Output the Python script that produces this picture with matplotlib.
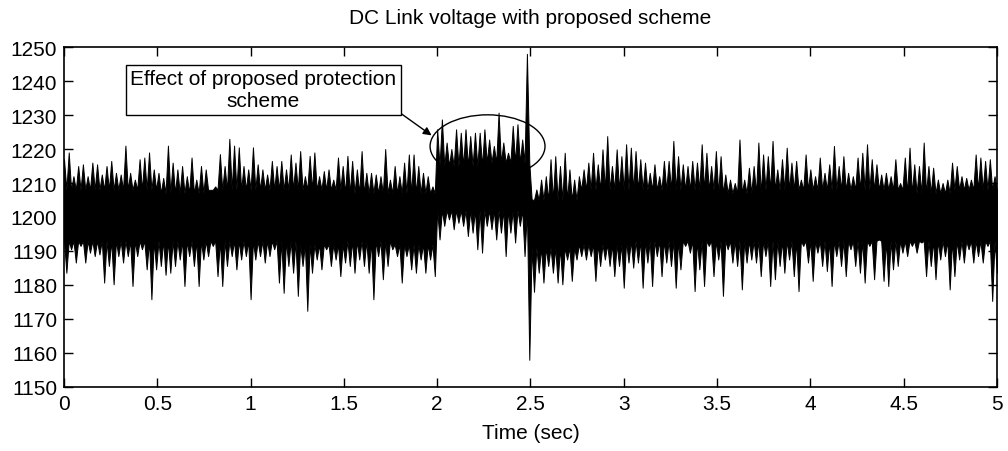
import numpy as np
import matplotlib
matplotlib.use("Agg")
import matplotlib.pyplot as plt
from matplotlib.patches import Ellipse

plt.rcParams['font.family'] = ['Liberation Sans', 'DejaVu Sans']

# Per-interval (0.025 s) upper and lower excursions of the DC link voltage
v_max = [
    1217, 1219, 1212, 1215, 1215.5, 1212, 1216, 1215.5, 1212.5, 1215, 1216.5, 1213, 1212.5, 1221, 1213, 1211, 1217, 1217.5, 1219, 1214, 1213, 1211.5,
    1221, 1216, 1214, 1215, 1212, 1217.5, 1211, 1215, 1214, 1208, 1209, 1218.5, 1215, 1223, 1221, 1220.5, 1215, 1214, 1220.5, 1215.5, 1214, 1212.5,
    1216.5, 1215, 1216.5, 1214, 1218.4, 1216, 1219.4, 1212, 1218, 1219, 1212, 1213.5, 1214, 1211, 1217.5, 1215, 1218, 1216.5, 1214, 1219.4, 1213, 1213,
    1212.5, 1212, 1220, 1211, 1215, 1212, 1216, 1218.4, 1218.4, 1215, 1213, 1212, 1209, 1225.8, 1228.7, 1221.9, 1220, 1225.8, 1224.8, 1225.8, 1223.8, 1224.8,
    1224.8, 1225.8, 1222.8, 1220.9, 1230.7, 1221.9, 1218.9, 1226.8, 1227.3, 1222.8, 1248, 1205.2, 1208.1, 1211, 1212, 1217, 1217.9, 1215, 1218.9, 1214, 1211, 1212,
    1214, 1216, 1218.9, 1215.5, 1219.9, 1223.8, 1215, 1219.9, 1217.9, 1221.4, 1220.4, 1219.4, 1217, 1216, 1213, 1215.5, 1212, 1216.5, 1216.5, 1222.4, 1217.9, 1215.5,
    1215, 1216.5, 1216, 1221.4, 1218.9, 1215, 1219.4, 1217.9, 1212.5, 1211, 1210, 1222.8, 1211, 1214.5, 1215, 1221.9, 1218.4, 1217.9, 1222.4, 1214, 1217, 1220.4,
    1216, 1216.5, 1211, 1218.4, 1214, 1212, 1217.5, 1213, 1215.5, 1220.9, 1215, 1217.9, 1213, 1212, 1217.5, 1218.9, 1221.4, 1217, 1215.5, 1212.5, 1213, 1212,
    1217, 1210, 1217.5, 1220.4, 1215.5, 1215, 1221.9, 1215, 1214.5, 1211, 1210, 1211, 1216, 1215, 1212, 1211.5, 1211, 1218.4, 1217.5, 1216.5, 1217, 1212,
]
v_min = [
    1183.6, 1190.5, 1186.6, 1191.5, 1186.6, 1189.5, 1188.5, 1189, 1180.7, 1185.6, 1180.2, 1188.5, 1186.6, 1188.5, 1179.7, 1188.5, 1190.5, 1184.6, 1175.8, 1184.6, 1185.6, 1183,
    1183.6, 1185.6, 1187.5, 1179.7, 1188.5, 1185.6, 1179.7, 1187.5, 1188.5, 1191.5, 1182.6, 1179.7, 1185.6, 1188.5, 1184.6, 1187.5, 1188.5, 1175.8, 1187.5, 1188.5, 1186.6, 1188.5,
    1190.5, 1180.7, 1177.7, 1185.6, 1183.6, 1176.8, 1185.6, 1172.4, 1183.6, 1187.5, 1184.6, 1190.5, 1185.6, 1187.5, 1182.6, 1186.6, 1185.6, 1183.6, 1187.5, 1185.6, 1183.6, 1175.8,
    1188.5, 1181.7, 1185.6, 1190.5, 1188.5, 1180.7, 1188.5, 1184.6, 1183.6, 1187.5, 1183.6, 1187.5, 1182.6, 1193.4, 1197.4, 1199.3, 1196.4, 1198.3, 1197.4, 1194.4, 1195.4, 1190.5,
    1189.5, 1197.4, 1196.4, 1193.4, 1195.4, 1188.5, 1195.4, 1192.5, 1197.4, 1188.5, 1158, 1178, 1183.6, 1180.7, 1185.6, 1183.6, 1180.7, 1180.2, 1187.5, 1181.2, 1187.5, 1188.5,
    1187.5, 1188.5, 1181.2, 1185.6, 1187.5, 1185.6, 1182.6, 1185.6, 1179.2, 1186.6, 1185.1, 1186.6, 1179.2, 1186.6, 1179.7, 1188.5, 1182.6, 1186.6, 1185.6, 1179.2, 1184.6, 1191.5,
    1189.5, 1178.2, 1184.6, 1179.7, 1191.5, 1182.6, 1187.5, 1176.8, 1190.5, 1186.6, 1185.6, 1178.7, 1186.6, 1187.5, 1186.6, 1182.6, 1188.5, 1179.7, 1181.7, 1185.6, 1183.6, 1187.5,
    1182.6, 1178.2, 1191.5, 1186.6, 1181.2, 1189.5, 1185.6, 1184.1, 1179.7, 1188.5, 1185.6, 1182.6, 1190.5, 1185.6, 1183.6, 1180.7, 1191.5, 1181.7, 1193.4, 1181.2, 1179.7, 1184.6,
    1185.6, 1189.5, 1188.5, 1191.5, 1189.5, 1192.5, 1182.6, 1185.6, 1181.7, 1187.5, 1188.5, 1178.7, 1182.6, 1187.5, 1186.6, 1190.5, 1186.6, 1188.5, 1186.6, 1191.5, 1175.3, 1183.6,
]

# Extent of the densely filled core of the trace, per 0.25 s segment
core_hi = [1208, 1208, 1207, 1208, 1208, 1208, 1207, 1207, 1215, 1216,
           1205, 1208, 1208, 1208, 1207, 1208, 1208, 1208, 1207, 1208]
core_lo = [1193, 1193, 1193, 1193, 1193, 1192, 1193, 1192, 1202, 1202,
           1191, 1192, 1193, 1193, 1193, 1193, 1193, 1193, 1193, 1193]

x_ticks = [0, 0.5, 1, 1.5, 2, 2.5, 3, 3.5, 4, 4.5, 5]
x_tick_labels = ['0', '0.5', '1', '1.5', '2', '2.5', '3', '3.5', '4', '4.5', '5']
y_ticks = list(range(1150, 1251, 10))

title = 'DC Link voltage with proposed scheme'
xlabel = 'Time (sec)'
note = 'Effect of proposed protection\nscheme'

# Build the trace: upper peaks alternate with the core edge, lower peaks likewise
n = len(v_max)
t = np.linspace(0, 5, 2 * n)
seg = np.minimum((t / 0.25).astype(int), len(core_hi) - 1)
hi_core = np.asarray(core_hi, float)[seg]
lo_core = np.asarray(core_lo, float)[seg]

upper = hi_core.copy()
lower = lo_core.copy()
upper[0::2] = v_max
lower[1::2] = v_min
upper = np.maximum(upper, lower)

fig = plt.figure(figsize=(10.08, 4.52), dpi=100)
ax = fig.add_axes([0.0635, 0.1416, 0.9255, 0.7522])
ax.fill_between(t, lower, upper, facecolor='black', edgecolor='black', lw=0.7)

ax.set_xlim(0, 5)
ax.set_ylim(1150, 1250)
ax.set_xticks(x_ticks)
ax.set_xticklabels(x_tick_labels)
ax.set_yticks(y_ticks)
ax.tick_params(direction='in', top=True, right=True, length=6.5, width=1.0,
               labelsize=15, pad=5)
for s in ax.spines.values():
    s.set_linewidth(1.2)

ax.set_title(title, fontsize=15, pad=17)
ax.set_xlabel(xlabel, fontsize=15, labelpad=7)

ax.add_patch(Ellipse((2.27, 1220.8), 0.616, 18.5, fill=False, ec='black', lw=1.0))
ax.annotate(note, xy=(1.97, 1224.0), xytext=(1.069, 1237.4),
            ha='center', va='center', fontsize=15, linespacing=1.2,
            bbox=dict(boxstyle='square,pad=0.2', fc='white', ec='black', lw=1.0),
            arrowprops=dict(arrowstyle='-|>', color='black', lw=1.0,
                            shrinkA=0, shrinkB=0, mutation_scale=12,
                            relpos=(1.0, 0.0)))

fig.savefig('out.png', dpi=100)
